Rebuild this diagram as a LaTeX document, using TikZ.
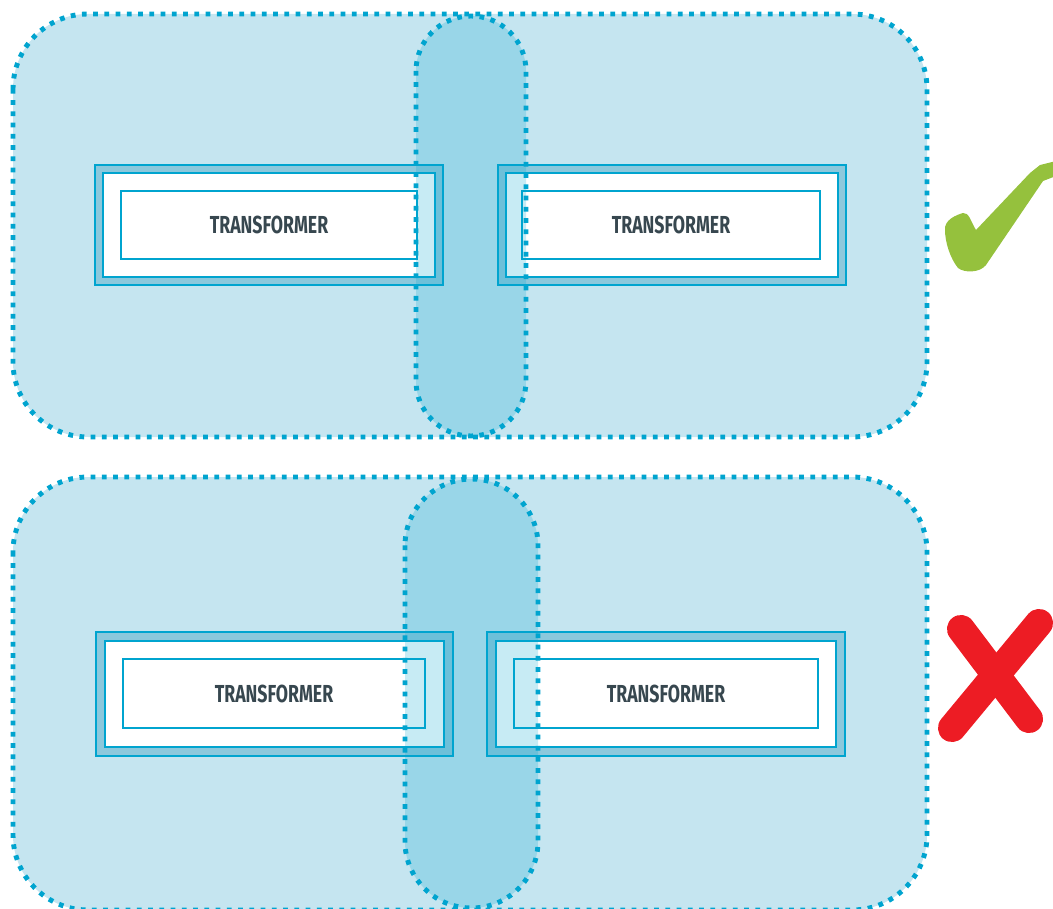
\documentclass[tikz,border=0pt]{standalone}
\usepackage{fontspec}
\newfontfamily\tffont[FakeStretch=0.72]{Fira Sans}
\definecolor{dotblue}{RGB}{0,164,207}
\definecolor{panelblue}{RGB}{197,229,240}
\definecolor{bandblue}{RGB}{140,200,220}
\definecolor{tftext}{RGB}{55,71,79}
\definecolor{okgreen}{RGB}{149,193,61}
\definecolor{badred}{RGB}{237,28,36}
\tikzset{
  dotline/.style={draw=dotblue, line width=2.8pt, dash pattern=on 2.7pt off 3.7pt},
  panel/.style={dotline, fill=panelblue, rounded corners=1.5cm},
  split/.style={dotline, fill=dotblue, fill opacity=0.22},
  tfouter/.style={draw=dotblue, line width=1.4pt, fill=bandblue, inner sep=0pt},
  tfmid/.style={draw=dotblue, line width=1.4pt, fill=white, inner sep=0pt},
  tfinner/.style={draw=dotblue, line width=1.4pt, fill=white, inner sep=0pt,
    font=\tffont\bfseries\fontsize{14}{16}\selectfont, text=tftext}
}
\begin{document}
\begin{tikzpicture}[x=0.02cm,y=-0.02cm]
\useasboundingbox (0,0) rectangle (1053,908);
% top: split between the two transformers
\draw[panel] (13,14) rectangle (927,437);
\node[tfouter, minimum width=6.96cm, minimum height=2.4cm] (tlOut) at (269,225) {};
\node[tfmid, minimum width=6.64cm, minimum height=2.08cm] (tlMid) at (269,225) {};
\node[tfinner, minimum width=5.92cm, minimum height=1.36cm] (tl) at (269,225) {TRANSFORMER};
\node[tfouter, minimum width=6.96cm, minimum height=2.4cm] (trOut) at (672,225) {};
\node[tfmid, minimum width=6.64cm, minimum height=2.08cm] (trMid) at (672,225) {};
\node[tfinner, minimum width=5.96cm, minimum height=1.36cm] (tr) at (671,225) {TRANSFORMER};
\draw[split, rounded corners=1.1cm] (416,16) rectangle (526,436);
% bottom: split cuts through the transformers
\draw[panel] (13,477) rectangle (927,910);
\node[tfouter, minimum width=7.14cm, minimum height=2.48cm] (blOut) at (274.5,694) {};
\node[tfmid, minimum width=6.78cm, minimum height=2.12cm] (blMid) at (274.5,694) {};
\node[tfinner, minimum width=6.04cm, minimum height=1.38cm] (bl) at (274,693.5) {TRANSFORMER};
\node[tfouter, minimum width=7.16cm, minimum height=2.48cm] (brOut) at (666,694) {};
\node[tfmid, minimum width=6.8cm, minimum height=2.12cm] (brMid) at (666,694) {};
\node[tfinner, minimum width=6.08cm, minimum height=1.38cm] (br) at (666,693.5) {TRANSFORMER};
\draw[split, rounded corners=1.33cm] (405,479) rectangle (538,908);
% check and cross
\fill[okgreen] (945,230) .. controls (944,220) and (956,215) .. (963,213)
  .. controls (969,212) and (971,222) .. (976,230)
  -- (1030,173) -- (1040,165) -- (1056,161) -- (1056,176) -- (1043,181)
  -- (986,265)
  .. controls (980,273) and (964,273) .. (958,268)
  .. controls (950,258) and (945,242) .. (945,230) -- cycle;
\draw[badred, line width=16pt, line cap=round] (961,629) -- (1029,719);
\draw[badred, line width=16pt, line cap=round] (1039,623) -- (952,728);
\end{tikzpicture}
\end{document}
